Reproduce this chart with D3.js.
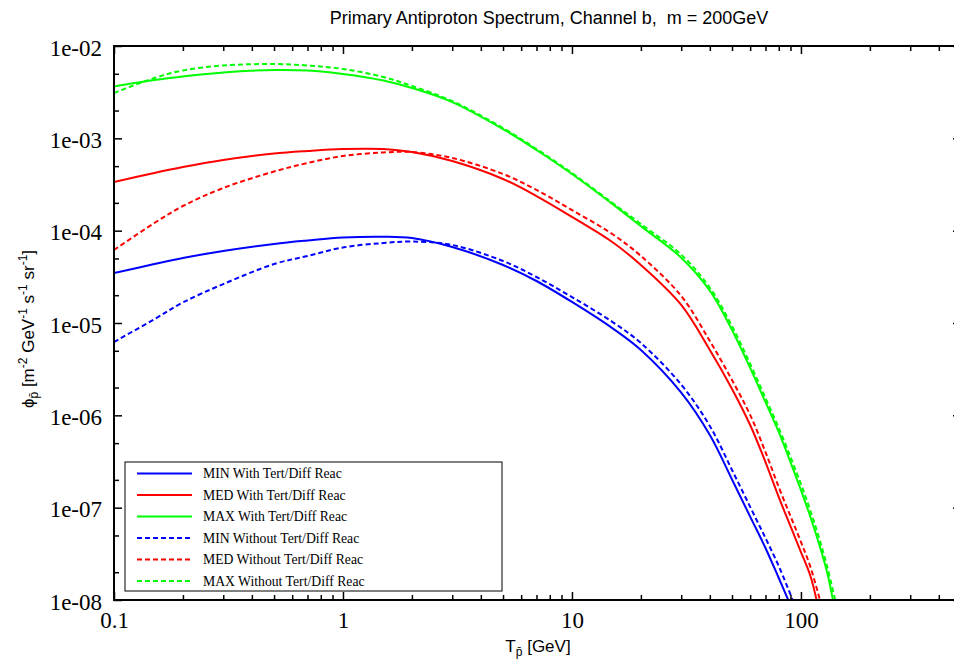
<!DOCTYPE html>
<html><head><meta charset="utf-8">
<script src="https://cdn.jsdelivr.net/npm/d3@7"></script>
<style>body{margin:0;background:#fff;} svg{display:block}</style>
</head><body><svg id="chart" width="954" height="661"></svg>
<script>
// ---------- DATA ----------
const chartTitle = "Primary Antiproton Spectrum, Channel b,  m = 200GeV";
const xTickValues = [0.1, 1, 10, 100];
const xTickLabels = ["0.1", "1", "10", "100"];
const yTickValues = [1e-2, 1e-3, 1e-4, 1e-5, 1e-6, 1e-7, 1e-8];
const yTickLabels = ["1e-02", "1e-03", "1e-04", "1e-05", "1e-06", "1e-07", "1e-08"];

const seriesNames = [
  "MIN With Tert/Diff Reac", "MED With Tert/Diff Reac", "MAX With Tert/Diff Reac",
  "MIN Without Tert/Diff Reac", "MED Without Tert/Diff Reac", "MAX Without Tert/Diff Reac"
];

// kinetic energy grid (GeV) shared by the body of every curve
const energyBody = [0.1, 0.15, 0.2, 0.3, 0.5, 0.7, 1, 1.5, 2, 3, 5, 7, 10, 15, 20, 30, 40, 50, 60, 70, 80];

const minWithT = energyBody.concat([88]);
const minWith = [3.47e-5, 4.35e-5, 5.06e-5, 6.02e-5, 7.18e-5, 7.82e-5, 8.43e-5, 8.6e-5, 8.32e-5, 6.65e-5,
  4.25e-5, 2.85e-5, 1.69e-5, 8.8e-6, 5.1e-6, 1.76e-6, 6.12e-7, 2.02e-7, 8.0e-8, 3.66e-8, 1.73e-8, 1e-8];

const minWithoutT = energyBody.concat([92]);
const minWithout = [6.22e-6, 1.1e-5, 1.67e-5, 2.64e-5, 4.35e-5, 5.32e-5, 6.58e-5, 7.35e-5, 7.63e-5, 7.0e-5,
  4.69e-5, 3.15e-5, 1.91e-5, 1.03e-5, 6.07e-6, 2.15e-6, 7.66e-7, 2.56e-7, 1.02e-7, 4.69e-8, 2.33e-8, 1e-8];

const medWithT = energyBody.concat([90, 100, 110, 117]);
const medWith = [3.36e-4, 4.22e-4, 4.89e-4, 5.82e-4, 6.85e-4, 7.3e-4, 7.66e-4, 7.66e-4, 7.11e-4, 5.68e-4,
  3.63e-4, 2.37e-4, 1.41e-4, 7.54e-5, 4.25e-5, 1.57e-5, 5.09e-6, 1.93e-6, 7.85e-7, 3.12e-7, 1.3e-7,
  6.3e-8, 3.31e-8, 1.82e-8, 1e-8];

const medWithoutT = energyBody.concat([90, 100, 110, 121]);
const medWithout = [6.17e-5, 1.21e-4, 1.85e-4, 2.9e-4, 4.37e-4, 5.4e-4, 6.44e-4, 7.03e-4, 7.12e-4, 6.12e-4,
  4.11e-4, 2.76e-4, 1.67e-4, 9.2e-5, 5.32e-5, 1.96e-5, 6.38e-6, 2.41e-6, 1.01e-6, 4.0e-7, 1.67e-7,
  8.1e-8, 4.25e-8, 2.28e-8, 1e-8];

const maxWithT = energyBody.concat([90, 100, 110, 120, 130, 138]);
const maxWith = [3.64e-3, 4.28e-3, 4.68e-3, 5.17e-3, 5.5e-3, 5.43e-3, 4.98e-3, 4.23e-3, 3.51e-3, 2.47e-3,
  1.26e-3, 7.48e-4, 4.11e-4, 1.95e-4, 1.12e-4, 5.1e-5, 2.24e-5, 8.4e-6, 3.26e-6, 1.39e-6, 6.59e-7,
  3.12e-7, 1.55e-7, 7.93e-8, 4.04e-8, 2.01e-8, 1e-8];

const maxWithoutT = energyBody.concat([90, 100, 110, 120, 130, 141]);
const maxWithout = [3.1e-3, 4.5e-3, 5.43e-3, 6.15e-3, 6.38e-3, 6.15e-3, 5.64e-3, 4.62e-3, 3.69e-3, 2.53e-3,
  1.29e-3, 7.66e-4, 4.21e-4, 2.0e-4, 1.18e-4, 5.5e-5, 2.41e-5, 9.27e-6, 3.6e-6, 1.54e-6, 7.3e-7,
  3.54e-7, 1.8e-7, 9.2e-8, 4.69e-8, 2.33e-8, 1e-8];

// ---------- LAYOUT ----------
const W = 954, H = 661;
const P = {left: 114, right: 961, top: 46, bottom: 600};
const serif = "'Liberation Serif','Times New Roman',serif";
const sans = "'Liberation Sans',Arial,Helvetica,sans-serif";

const svg = d3.select("#chart");
svg.append("rect").attr("width", W).attr("height", H).attr("fill", "#fff");

const x = d3.scaleLog().domain([0.1, 500]).range([P.left, P.right]);
const y = d3.scaleLog().domain([1e-8, 1e-2]).range([P.bottom, P.top]);

svg.append("defs").append("clipPath").attr("id", "clip")
  .append("rect").attr("x", P.left).attr("y", P.top)
  .attr("width", P.right - P.left).attr("height", P.bottom - P.top);

const series = [
  {name: seriesNames[0], T: minWithT, v: minWith, color: "#0000ff", dash: null},
  {name: seriesNames[1], T: medWithT, v: medWith, color: "#ff0000", dash: null},
  {name: seriesNames[2], T: maxWithT, v: maxWith, color: "#00ff00", dash: null},
  {name: seriesNames[3], T: minWithoutT, v: minWithout, color: "#0000ff", dash: "5,3"},
  {name: seriesNames[4], T: medWithoutT, v: medWithout, color: "#ff0000", dash: "5,3"},
  {name: seriesNames[5], T: maxWithoutT, v: maxWithout, color: "#00ff00", dash: "5,3"}
];

const line = d3.line().x(d => x(d[0])).y(d => y(d[1])).curve(d3.curveCatmullRom.alpha(0.5));

const gLines = svg.append("g").attr("clip-path", "url(#clip)");
series.forEach(s => {
  gLines.append("path")
    .datum(s.T.map((t, i) => [t, s.v[i]]))
    .attr("d", line)
    .attr("fill", "none")
    .attr("stroke", s.color)
    .attr("stroke-width", 2)
    .attr("stroke-dasharray", s.dash);
});

// ---------- AXES ----------
const xMinor = [];
[0.1, 1, 10, 100].forEach(d => { for (let k = 2; k <= 9; k++) { const v = d * k; if (v < 500) xMinor.push(v); } });
const yMinor = [];
[1e-8, 1e-7, 1e-6, 1e-5, 1e-4, 1e-3].forEach(d => { yMinor.push(d * 2, d * 5); });

function styleAxis(g) {
  g.select(".domain").remove();
  g.selectAll(".tick line").attr("stroke", "#000").attr("stroke-width", 1.5);
}

svg.append("g").attr("transform", `translate(0,${P.bottom})`)
  .call(d3.axisBottom(x).tickValues(xTickValues).tickSize(-8).tickFormat((d, i) => xTickLabels[i]))
  .call(styleAxis)
  .call(g => g.selectAll("text").attr("y", 28).attr("dy", 0)
    .attr("font-family", serif).attr("font-size", 23).attr("fill", "#000"));
svg.append("g").attr("transform", `translate(0,${P.bottom})`)
  .call(d3.axisBottom(x).tickValues(xMinor).tickSize(-5).tickFormat("")).call(styleAxis);
svg.append("g").attr("transform", `translate(0,${P.top})`)
  .call(d3.axisTop(x).tickValues(xTickValues).tickSize(-8).tickFormat("")).call(styleAxis);
svg.append("g").attr("transform", `translate(0,${P.top})`)
  .call(d3.axisTop(x).tickValues(xMinor).tickSize(-5).tickFormat("")).call(styleAxis);

svg.append("g").attr("transform", `translate(${P.left},0)`)
  .call(d3.axisLeft(y).tickValues(yTickValues).tickSize(-8).tickFormat((d, i) => yTickLabels[i]))
  .call(styleAxis)
  .call(g => g.selectAll("text").attr("x", -12).attr("dy", "0.4em")
    .attr("font-family", serif).attr("font-size", 23).attr("fill", "#000"));
svg.append("g").attr("transform", `translate(${P.left},0)`)
  .call(d3.axisLeft(y).tickValues(yMinor).tickSize(-5).tickFormat("")).call(styleAxis);
svg.append("g").attr("transform", `translate(${P.right},0)`)
  .call(d3.axisRight(y).tickValues(yTickValues).tickSize(-8).tickFormat("")).call(styleAxis);
svg.append("g").attr("transform", `translate(${P.right},0)`)
  .call(d3.axisRight(y).tickValues(yMinor).tickSize(-5).tickFormat("")).call(styleAxis);

// frame
svg.append("rect").attr("x", P.left).attr("y", P.top)
  .attr("width", P.right - P.left).attr("height", P.bottom - P.top)
  .attr("fill", "none").attr("stroke", "#000").attr("stroke-width", 2);

// ---------- TITLE & AXIS LABELS ----------
svg.append("text").attr("x", 549).attr("y", 24).attr("text-anchor", "middle")
  .style("white-space", "pre")
  .attr("font-family", sans).attr("font-size", 18).attr("fill", "#000").text(chartTitle);

const xl = svg.append("text").attr("x", 538).attr("y", 652).attr("text-anchor", "middle")
  .attr("font-family", sans).attr("font-size", 17).attr("fill", "#000");
xl.append("tspan").text("T");
xl.append("tspan").attr("baseline-shift", "-30%").attr("font-size", 12).text("p\u0304");
xl.append("tspan").text(" [GeV]");

const yl = svg.append("text").attr("transform", "translate(34,329) rotate(-90)")
  .attr("text-anchor", "middle").attr("font-family", sans).attr("font-size", 17).attr("fill", "#000");
yl.append("tspan").text("\u03d5");
yl.append("tspan").attr("baseline-shift", "-30%").attr("font-size", 12).text("p\u0304");
yl.append("tspan").text(" [m");
yl.append("tspan").attr("baseline-shift", "super").attr("font-size", 12).text("-2");
yl.append("tspan").text(" GeV");
yl.append("tspan").attr("baseline-shift", "super").attr("font-size", 12).text("-1");
yl.append("tspan").text(" s");
yl.append("tspan").attr("baseline-shift", "super").attr("font-size", 12).text("-1");
yl.append("tspan").text(" sr");
yl.append("tspan").attr("baseline-shift", "super").attr("font-size", 12).text("-1");
yl.append("tspan").text("]");

// ---------- LEGEND ----------
const lg = svg.append("g");
lg.append("rect").attr("x", 125).attr("y", 462).attr("width", 377).attr("height", 129)
  .attr("fill", "#fff").attr("stroke", "#000").attr("stroke-width", 1);
series.forEach((s, i) => {
  const yy = 473.5 + i * 21.5;
  lg.append("line").attr("x1", 137).attr("x2", 192).attr("y1", yy).attr("y2", yy)
    .attr("stroke", s.color).attr("stroke-width", 2).attr("stroke-dasharray", s.dash);
  lg.append("text").attr("x", 203).attr("y", yy).attr("dy", "0.35em")
    .attr("font-family", serif).attr("font-size", 13.7).attr("fill", "#000").text(s.name);
});
</script></body></html>
